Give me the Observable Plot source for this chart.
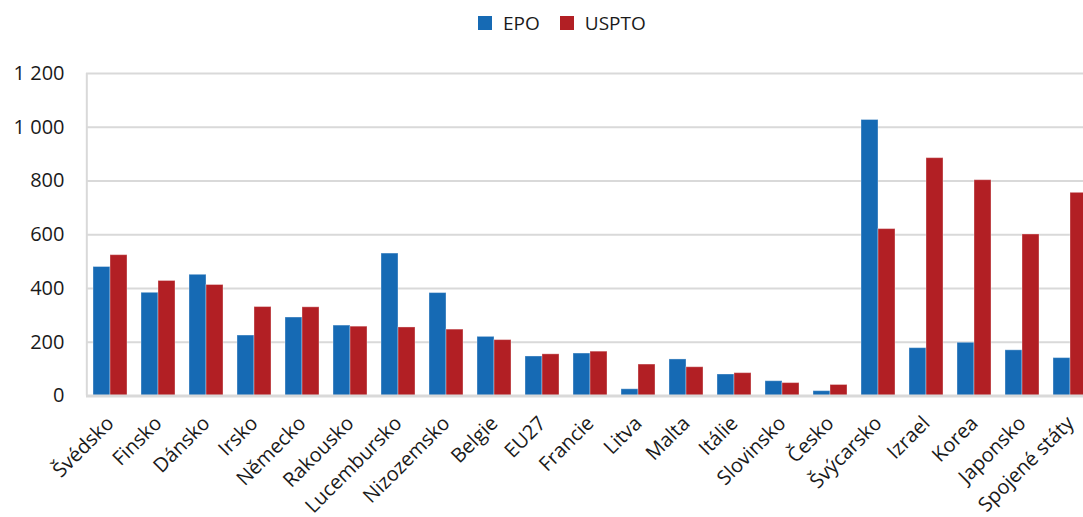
<!DOCTYPE html>
<html>
<head>
<meta charset="utf-8">
<script src="https://cdn.jsdelivr.net/npm/d3@7"></script>
<script src="https://cdn.jsdelivr.net/npm/@observablehq/plot@0.6"></script>
<style>
  html, body { margin: 0; padding: 0; background: #fff; overflow: hidden; }
  body { font-family: "Open Sans", sans-serif; width: 1083px; height: 517px; position: relative; }
  #legend { position: absolute; left: 478px; top: 0; height: 45px; display: flex; align-items: center; gap: 0; font-size: 19px; color: #1a1a1a; }
  #legend .item { display: flex; align-items: center; margin-right: 20px; }
  #legend .sw { width: 14px; height: 14px; margin-right: 11px; }
  #chart { position: absolute; left: 0; top: 45px; width: 1100px; }
  #chart svg { max-width: none !important; }
</style>
</head>
<body>
<div id="legend"></div>
<div id="chart"></div>
<script>
const countries = ["Švédsko","Finsko","Dánsko","Irsko","Německo","Rakousko","Lucembursko","Nizozemsko","Belgie","EU27","Francie","Litva","Malta","Itálie","Slovinsko","Česko","Švýcarsko","Izrael","Korea","Japonsko","Spojené státy"];
const epo   = [480, 384, 451, 225, 292, 262, 530, 383, 220, 147, 158, 25, 136, 80, 55, 18, 1027, 178, 198, 170, 141];
const uspto = [524, 428, 413, 331, 330, 258, 255, 247, 208, 155, 165, 117, 107, 85, 48, 41, 621, 885, 803, 601, 756];
const seriesNames = ["EPO", "USPTO"];
const seriesColors = ["#166ab4", "#b21f24"];
const yTicks = [0, 200, 400, 600, 800, 1000, 1200];

const data = [];
countries.forEach((c, i) => {
  data.push({country: c, series: "EPO", value: epo[i]});
  data.push({country: c, series: "USPTO", value: uspto[i]});
});

// legend
const legend = document.getElementById("legend");
seriesNames.forEach((s, i) => {
  const it = document.createElement("div");
  it.className = "item";
  const sw = document.createElement("div");
  sw.className = "sw";
  sw.style.background = seriesColors[i];
  const t = document.createElement("span");
  t.textContent = s;
  it.appendChild(sw); it.appendChild(t);
  legend.appendChild(it);
});

const fmt = d => d3.format(",")(d).replace(/,/g, "\u00a0");

const chart = Plot.plot({
  width: 1100,
  height: 472,
  marginLeft: 86,
  marginRight: 6,
  marginTop: 28,
  marginBottom: 121.5,
  style: {fontFamily: "Open Sans, sans-serif", fontSize: "20px", color: "#1a1a1a", background: "transparent", maxWidth: "none"},
  fx: {domain: countries, padding: 0, label: null, tickRotate: -45, tickSize: 0, tickPadding: 24},
  x: {domain: seriesNames, paddingInner: 0, paddingOuter: 0.36, axis: null},
  y: {domain: [0, 1200], ticks: yTicks, tickFormat: fmt, tickSize: 0, tickPadding: 22, label: null},
  color: {domain: seriesNames, range: seriesColors},
  marks: [
    Plot.ruleY(yTicks.slice(1), {stroke: "#d9d9d9", strokeWidth: 2}),
    Plot.ruleX([countries[0]], {fx: d => d, x: () => "EPO", dx: -(17.67 / 2 + 6.35), y1: 0, y2: 1200, stroke: "#d9d9d9", strokeWidth: 2}),
    Plot.barY(data, {fx: "country", x: "series", y: "value", fill: "series", stroke: "white", strokeOpacity: 0.35, strokeWidth: 1}),
    Plot.ruleY([0], {stroke: "#d9d9d9", strokeWidth: 3})
  ]
});
chart.style.maxWidth = "none";
document.getElementById("chart").appendChild(chart);
</script>
</body>
</html>
